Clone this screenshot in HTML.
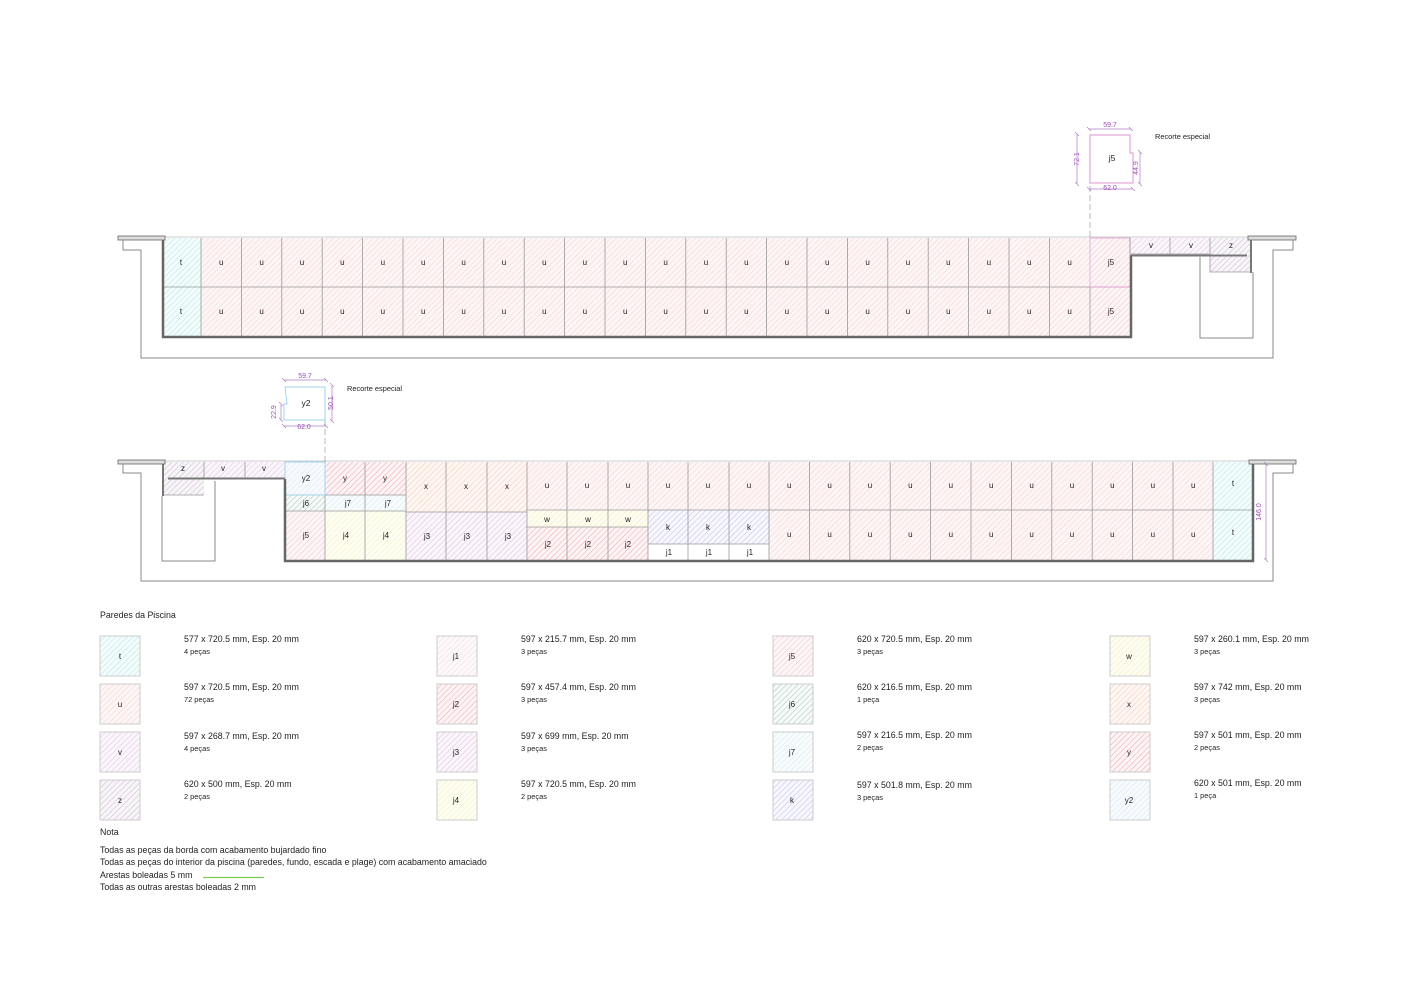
<!DOCTYPE html>
<html><head><meta charset="utf-8"><style>
html,body{margin:0;padding:0;background:#fff}
svg{display:block}
text{font-family:"Liberation Sans",sans-serif;fill:#222}
.l{font-size:8px;text-anchor:middle}
.g{fill:none;stroke:#999;stroke-width:0.8}
.o{fill:none;stroke:#888;stroke-width:1}
.th{stroke:#666;stroke-width:2.5}
.d{font-size:7px;fill:#9b4fb8;text-anchor:middle}
.dl{stroke:#b07cc8;stroke-width:0.7;fill:none}
.lt{font-size:8.8px}
.ls{font-size:7.4px}
</style></head><body>
<svg width="1414" height="1000" viewBox="0 0 1414 1000" xmlns="http://www.w3.org/2000/svg">
<defs>
<pattern id="pt" width="4" height="4" patternUnits="userSpaceOnUse" patternTransform="rotate(45)"><rect width="4" height="4" fill="#f4fcfc"/><line x1="0" y1="0" x2="0" y2="4" stroke="#9fdede" stroke-width="0.8"/></pattern>
<pattern id="pu" width="4" height="4" patternUnits="userSpaceOnUse" patternTransform="rotate(45)"><rect width="4" height="4" fill="#fdf6f6"/><line x1="0" y1="0" x2="0" y2="4" stroke="#f3c4c4" stroke-width="0.8"/></pattern>
<pattern id="pv" width="4" height="4" patternUnits="userSpaceOnUse" patternTransform="rotate(45)"><rect width="4" height="4" fill="#fbf6fb"/><line x1="0" y1="0" x2="0" y2="4" stroke="#d6b4d6" stroke-width="0.8"/></pattern>
<pattern id="pz" width="4" height="4" patternUnits="userSpaceOnUse" patternTransform="rotate(45)"><rect width="4" height="4" fill="#f8f5f9"/><line x1="0" y1="0" x2="0" y2="4" stroke="#bda8c4" stroke-width="0.8"/></pattern>
<pattern id="pj1" width="4" height="4" patternUnits="userSpaceOnUse" patternTransform="rotate(45)"><rect width="4" height="4" fill="#fdf9fb"/><line x1="0" y1="0" x2="0" y2="4" stroke="#ead0dc" stroke-width="0.8"/></pattern>
<pattern id="pj2" width="4" height="4" patternUnits="userSpaceOnUse" patternTransform="rotate(45)"><rect width="4" height="4" fill="#fdf4f5"/><line x1="0" y1="0" x2="0" y2="4" stroke="#f0909c" stroke-width="0.8"/></pattern>
<pattern id="pj3" width="4" height="4" patternUnits="userSpaceOnUse" patternTransform="rotate(45)"><rect width="4" height="4" fill="#fbf6fb"/><line x1="0" y1="0" x2="0" y2="4" stroke="#d8aad8" stroke-width="0.8"/></pattern>
<pattern id="pj4" width="4" height="4" patternUnits="userSpaceOnUse" patternTransform="rotate(45)"><rect width="4" height="4" fill="#fefef4"/><line x1="0" y1="0" x2="0" y2="4" stroke="#f0eca0" stroke-width="0.8"/></pattern>
<pattern id="pj5" width="4" height="4" patternUnits="userSpaceOnUse" patternTransform="rotate(45)"><rect width="4" height="4" fill="#fdf6f7"/><line x1="0" y1="0" x2="0" y2="4" stroke="#f2b0bc" stroke-width="0.8"/></pattern>
<pattern id="pj6" width="4" height="4" patternUnits="userSpaceOnUse" patternTransform="rotate(45)"><rect width="4" height="4" fill="#f6faf8"/><line x1="0" y1="0" x2="0" y2="4" stroke="#90b8a8" stroke-width="0.8"/></pattern>
<pattern id="pj7" width="4" height="4" patternUnits="userSpaceOnUse" patternTransform="rotate(45)"><rect width="4" height="4" fill="#f8fcfd"/><line x1="0" y1="0" x2="0" y2="4" stroke="#c8e2ec" stroke-width="0.8"/></pattern>
<pattern id="pk" width="4" height="4" patternUnits="userSpaceOnUse" patternTransform="rotate(45)"><rect width="4" height="4" fill="#f7f7fd"/><line x1="0" y1="0" x2="0" y2="4" stroke="#b0b0e2" stroke-width="0.8"/></pattern>
<pattern id="pw" width="4" height="4" patternUnits="userSpaceOnUse" patternTransform="rotate(45)"><rect width="4" height="4" fill="#fefdf2"/><line x1="0" y1="0" x2="0" y2="4" stroke="#ece4a8" stroke-width="0.8"/></pattern>
<pattern id="px" width="4" height="4" patternUnits="userSpaceOnUse" patternTransform="rotate(45)"><rect width="4" height="4" fill="#fef7f3"/><line x1="0" y1="0" x2="0" y2="4" stroke="#f4b8a0" stroke-width="0.8"/></pattern>
<pattern id="py" width="4" height="4" patternUnits="userSpaceOnUse" patternTransform="rotate(45)"><rect width="4" height="4" fill="#fdf4f5"/><line x1="0" y1="0" x2="0" y2="4" stroke="#f08a98" stroke-width="0.8"/></pattern>
<pattern id="py2" width="4" height="4" patternUnits="userSpaceOnUse" patternTransform="rotate(45)"><rect width="4" height="4" fill="#f8fbfe"/><line x1="0" y1="0" x2="0" y2="4" stroke="#cadcf0" stroke-width="0.8"/></pattern>
</defs>

<!-- ===== ELEVATION 1 ===== -->
<line x1="162" y1="237" x2="1250" y2="237" stroke="#ccc" stroke-width="1"/>
<rect x="162" y="238" width="39" height="98" fill="url(#pt)"/>
<rect x="201" y="238" width="889" height="98" fill="url(#pu)"/>
<rect x="1090" y="238" width="40" height="98" fill="url(#pj5)"/>
<rect x="1130" y="238" width="80" height="16" fill="url(#pv)"/>
<rect x="1210" y="238" width="40" height="34" fill="url(#pz)"/>
<path class="g" d="M162 287H1130M201 238V336M241.4 238V336M281.8 238V336M322.2 238V336M362.6 238V336M403 238V336M443.4 238V336M483.8 238V336M524.2 238V336M564.6 238V336M605 238V336M645.4 238V336M685.8 238V336M726.2 238V336M766.6 238V336M807 238V336M847.4 238V336M887.8 238V336M928.2 238V336M968.6 238V336M1009 238V336M1049.4 238V336"/>
<rect x="1090" y="238" width="40" height="49" fill="none" stroke="#e8a0d8" stroke-width="0.8"/>
<line x1="1090" y1="287" x2="1090" y2="336" stroke="#999" stroke-width="0.8"/>
<path class="g" d="M1130 238V254M1170 238V254M1210 238V272H1250M1130 254H1210"/>
<path class="th" d="M163 238V337H1131V255" fill="none"/>
<line x1="1131" y1="255.5" x2="1247" y2="255.5" stroke="#777" stroke-width="2"/>
<line x1="1251" y1="238" x2="1251" y2="273" stroke="#777" stroke-width="2"/>
<rect x="118" y="236" width="47" height="4" fill="#ddd" stroke="#666" stroke-width="0.8"/>
<rect x="1248" y="236" width="48" height="4" fill="#ddd" stroke="#666" stroke-width="0.8"/>
<path class="o" d="M123 240V250H141V358H1273V250H1293V240"/>
<path class="o" d="M1200 257V338H1253V272"/>
<g class="l">
<text x="181" y="265">t</text><text x="181" y="314">t</text>
<text x="221.2" y="265">u</text><text x="261.6" y="265">u</text><text x="302" y="265">u</text><text x="342.4" y="265">u</text><text x="382.8" y="265">u</text><text x="423.2" y="265">u</text><text x="463.6" y="265">u</text><text x="504" y="265">u</text><text x="544.4" y="265">u</text><text x="584.8" y="265">u</text><text x="625.2" y="265">u</text><text x="665.6" y="265">u</text><text x="706" y="265">u</text><text x="746.4" y="265">u</text><text x="786.8" y="265">u</text><text x="827.2" y="265">u</text><text x="867.6" y="265">u</text><text x="908" y="265">u</text><text x="948.4" y="265">u</text><text x="988.8" y="265">u</text><text x="1029.2" y="265">u</text><text x="1069.6" y="265">u</text>
<text x="221.2" y="314">u</text><text x="261.6" y="314">u</text><text x="302" y="314">u</text><text x="342.4" y="314">u</text><text x="382.8" y="314">u</text><text x="423.2" y="314">u</text><text x="463.6" y="314">u</text><text x="504" y="314">u</text><text x="544.4" y="314">u</text><text x="584.8" y="314">u</text><text x="625.2" y="314">u</text><text x="665.6" y="314">u</text><text x="706" y="314">u</text><text x="746.4" y="314">u</text><text x="786.8" y="314">u</text><text x="827.2" y="314">u</text><text x="867.6" y="314">u</text><text x="908" y="314">u</text><text x="948.4" y="314">u</text><text x="988.8" y="314">u</text><text x="1029.2" y="314">u</text><text x="1069.6" y="314">u</text>
<text x="1111" y="265">j5</text><text x="1111" y="314">j5</text>
<text x="1151" y="248">v</text><text x="1191" y="248">v</text><text x="1231" y="248">z</text>
</g>
<path d="M1090 135H1130V153H1133V183H1090Z" fill="#fff" stroke="#e090d0" stroke-width="1"/>
<text class="l" x="1112" y="161" style="font-size:8.5px">j5</text>
<line x1="1090" y1="186" x2="1090" y2="238" stroke="#999" stroke-width="0.7" stroke-dasharray="6,3"/>
<path class="dl" d="M1089 129H1131M1089 189H1133M1077 134V184M1140 152V184M1087 127l4 4M1129 127l4 4M1087 187l4 4M1131 187l4 4M1075 132l4 4M1075 182l4 4M1138 150l4 4M1138 182l4 4"/>
<text class="d" x="1110" y="127">59.7</text>
<text class="d" x="1110" y="190">62.0</text>
<text class="d" transform="translate(1079 159) rotate(-90)">72.1</text>
<text class="d" transform="translate(1138 168) rotate(-90)">44.9</text>
<text class="ls" x="1155" y="139">Recorte especial</text>

<!-- ===== ELEVATION 2 ===== -->
<line x1="163" y1="461" x2="1253" y2="461" stroke="#ccc" stroke-width="1"/>
<rect x="163" y="462" width="41" height="33" fill="url(#pz)"/>
<rect x="204" y="462" width="81" height="16" fill="url(#pv)"/>
<rect x="285" y="462" width="40" height="33" fill="url(#py2)"/>
<rect x="325" y="462" width="81" height="33" fill="url(#py)"/>
<rect x="285" y="495" width="40" height="16" fill="url(#pj6)"/>
<rect x="325" y="495" width="81" height="16" fill="url(#pj7)"/>
<rect x="285" y="511" width="40" height="49" fill="url(#pj5)"/>
<rect x="325" y="511" width="81" height="49" fill="url(#pj4)"/>
<rect x="406" y="462" width="121" height="50" fill="url(#px)"/>
<rect x="406" y="512" width="121" height="48" fill="url(#pj3)"/>
<rect x="527" y="462" width="686" height="98" fill="url(#pu)"/>
<rect x="527" y="510" width="121" height="17" fill="url(#pw)"/>
<rect x="527" y="527" width="121" height="33" fill="url(#pj2)"/>
<rect x="648" y="510" width="121" height="34" fill="url(#pk)"/>
<rect x="648" y="544" width="121" height="16" fill="#fff"/>
<rect x="1213" y="462" width="40" height="98" fill="url(#pt)"/>
<path class="g" d="M204 462V478M245 462V478M163 495H204M204 478H285M325 462V560M365 462V560M406 462V560M446 462V560M487 462V560M527 462V560M567 462V560M608 462V560M648 462V560M688 462V560M729 462V560M769 462V560M285 495H406M285 511H406M406 512H527M527 510H1253M527 527H648M648 544H769M809.4 462V560M849.8 462V560M890.2 462V560M930.6 462V560M971 462V560M1011.4 462V560M1051.8 462V560M1092.2 462V560M1132.6 462V560M1173 462V560M1213 462V560"/>
<rect x="285" y="462" width="40" height="33" fill="none" stroke="#9fd4ec" stroke-width="1"/>
<line x1="325" y1="420" x2="325" y2="462" stroke="#999" stroke-width="0.7" stroke-dasharray="6,3"/>
<path class="th" d="M285 479V561H1253V462" fill="none"/>
<line x1="163" y1="462" x2="163" y2="496" stroke="#777" stroke-width="2"/>
<line x1="168" y1="478.5" x2="285" y2="478.5" stroke="#777" stroke-width="2"/>
<rect x="118" y="460" width="47" height="4" fill="#ddd" stroke="#666" stroke-width="0.8"/>
<rect x="1249" y="460" width="47" height="4" fill="#ddd" stroke="#666" stroke-width="0.8"/>
<path class="o" d="M123 464V473H141V581H1273V473H1293V464"/>
<path class="o" d="M162 496V561H215V481"/>
<g class="l">
<text x="183" y="471">z</text><text x="223" y="471">v</text><text x="264" y="471">v</text>
<text x="306" y="481">y2</text><text x="345" y="481">y</text><text x="385" y="481">y</text>
<text x="306" y="506">j6</text><text x="348" y="506">j7</text><text x="388" y="506">j7</text>
<text x="306" y="538">j5</text><text x="346" y="538">j4</text><text x="386" y="538">j4</text>
<text x="426" y="489">x</text><text x="466" y="489">x</text><text x="507" y="489">x</text>
<text x="427" y="539">j3</text><text x="467" y="539">j3</text><text x="508" y="539">j3</text>
<text x="547" y="488">u</text><text x="587" y="488">u</text><text x="628" y="488">u</text><text x="668" y="488">u</text><text x="708" y="488">u</text><text x="749" y="488">u</text>
<text x="789.2" y="488">u</text><text x="829.6" y="488">u</text><text x="870" y="488">u</text><text x="910.4" y="488">u</text><text x="950.8" y="488">u</text><text x="991.2" y="488">u</text><text x="1031.6" y="488">u</text><text x="1072" y="488">u</text><text x="1112.4" y="488">u</text><text x="1152.8" y="488">u</text><text x="1193.2" y="488">u</text>
<text x="789.2" y="537">u</text><text x="829.6" y="537">u</text><text x="870" y="537">u</text><text x="910.4" y="537">u</text><text x="950.8" y="537">u</text><text x="991.2" y="537">u</text><text x="1031.6" y="537">u</text><text x="1072" y="537">u</text><text x="1112.4" y="537">u</text><text x="1152.8" y="537">u</text><text x="1193.2" y="537">u</text>
<text x="1233" y="486">t</text><text x="1233" y="535">t</text>
<text x="547" y="522">w</text><text x="588" y="522">w</text><text x="628" y="522">w</text>
<text x="548" y="547">j2</text><text x="588" y="547">j2</text><text x="628" y="547">j2</text>
<text x="668" y="530">k</text><text x="708" y="530">k</text><text x="749" y="530">k</text>
<text x="669" y="555">j1</text><text x="709" y="555">j1</text><text x="750" y="555">j1</text>
</g>
<path class="dl" d="M1266 464V560M1264 462l4 4M1264 558l4 4"/>
<text class="d" transform="translate(1261 512) rotate(-90)">146.0</text>
<path d="M285 387H325V420H284V404H287Z" fill="#fff" stroke="#9fd4ec" stroke-width="1"/>
<text class="l" x="306" y="406" style="font-size:8.5px">y2</text>
<path class="dl" d="M284 380H326M284 426H326M281 405V420M332 386V421M282 378l4 4M324 378l4 4M282 424l4 4M324 424l4 4M279 402l4 4M279 418l4 4M330 383l4 4M330 419l4 4"/>
<text class="d" x="305" y="378">59.7</text>
<text class="d" x="304" y="429">62.0</text>
<text class="d" transform="translate(276 412) rotate(-90)">22.9</text>
<text class="d" transform="translate(333 403) rotate(-90)">50.1</text>
<text class="ls" x="347" y="391">Recorte especial</text>

<!-- ===== LEGEND ===== -->
<text class="lt" x="100" y="618">Paredes da Piscina</text>
<g stroke="#ccc" stroke-width="1">
<rect x="100" y="636" width="40" height="40" fill="url(#pt)"/>
<rect x="100" y="684" width="40" height="40" fill="url(#pu)"/>
<rect x="100" y="732" width="40" height="40" fill="url(#pv)"/>
<rect x="100" y="780" width="40" height="40" fill="url(#pz)"/>
<rect x="437" y="636" width="40" height="40" fill="url(#pj1)"/>
<rect x="437" y="684" width="40" height="40" fill="url(#pj2)"/>
<rect x="437" y="732" width="40" height="40" fill="url(#pj3)"/>
<rect x="437" y="780" width="40" height="40" fill="url(#pj4)"/>
<rect x="773" y="636" width="40" height="40" fill="url(#pj5)"/>
<rect x="773" y="684" width="40" height="40" fill="url(#pj6)"/>
<rect x="773" y="732" width="40" height="40" fill="url(#pj7)"/>
<rect x="773" y="780" width="40" height="40" fill="url(#pk)"/>
<rect x="1110" y="636" width="40" height="40" fill="url(#pw)"/>
<rect x="1110" y="684" width="40" height="40" fill="url(#px)"/>
<rect x="1110" y="732" width="40" height="40" fill="url(#py)"/>
<rect x="1110" y="780" width="40" height="40" fill="url(#py2)"/>
</g>
<g class="l">
<text x="120" y="659">t</text><text x="120" y="707">u</text><text x="120" y="755">v</text><text x="120" y="803">z</text>
<text x="456" y="659">j1</text><text x="456" y="707">j2</text><text x="456" y="755">j3</text><text x="456" y="803">j4</text>
<text x="792" y="659">j5</text><text x="792" y="707">j6</text><text x="792" y="755">j7</text><text x="792" y="803">k</text>
<text x="1129" y="659">w</text><text x="1129" y="707">x</text><text x="1129" y="755">y</text><text x="1129" y="803">y2</text>
</g>
<g class="lt">
<text x="184" y="642">577 x 720.5 mm, Esp. 20 mm</text><text x="184" y="690">597 x 720.5 mm, Esp. 20 mm</text><text x="184" y="739">597 x 268.7 mm, Esp. 20 mm</text><text x="184" y="787">620 x 500 mm, Esp. 20 mm</text>
<text x="521" y="642">597 x 215.7 mm, Esp. 20 mm</text><text x="521" y="690">597 x 457.4 mm, Esp. 20 mm</text><text x="521" y="739">597 x 699 mm, Esp. 20 mm</text><text x="521" y="787">597 x 720.5 mm, Esp. 20 mm</text>
<text x="857" y="642">620 x 720.5 mm, Esp. 20 mm</text><text x="857" y="690">620 x 216.5 mm, Esp. 20 mm</text><text x="857" y="738">597 x 216.5 mm, Esp. 20 mm</text><text x="857" y="788">597 x 501.8 mm, Esp. 20 mm</text>
<text x="1194" y="642">597 x 260.1 mm, Esp. 20 mm</text><text x="1194" y="690">597 x 742 mm, Esp. 20 mm</text><text x="1194" y="738">597 x 501 mm, Esp. 20 mm</text><text x="1194" y="786">620 x 501 mm, Esp. 20 mm</text>
</g>
<g class="ls">
<text x="184" y="654">4 peças</text><text x="184" y="702">72 peças</text><text x="184" y="751">4 peças</text><text x="184" y="799">2 peças</text>
<text x="521" y="654">3 peças</text><text x="521" y="702">3 peças</text><text x="521" y="751">3 peças</text><text x="521" y="799">2 peças</text>
<text x="857" y="654">3 peças</text><text x="857" y="702">1 peça</text><text x="857" y="750">2 peças</text><text x="857" y="800">3 peças</text>
<text x="1194" y="654">3 peças</text><text x="1194" y="702">3 peças</text><text x="1194" y="750">2 peças</text><text x="1194" y="798">1 peça</text>
</g>
<g class="lt">
<text x="100" y="835">Nota</text>
<text x="100" y="853">Todas as peças da borda com acabamento bujardado fino</text>
<text x="100" y="865">Todas as peças do interior da piscina (paredes, fundo, escada e plage) com acabamento amaciado</text>
<text x="100" y="878">Arestas boleadas 5 mm</text>
<text x="100" y="890">Todas as outras arestas boleadas 2 mm</text>
</g>
<line x1="203" y1="877.5" x2="264" y2="877.5" stroke="#7ccf50" stroke-width="1.2"/>
</svg>
</body></html>
